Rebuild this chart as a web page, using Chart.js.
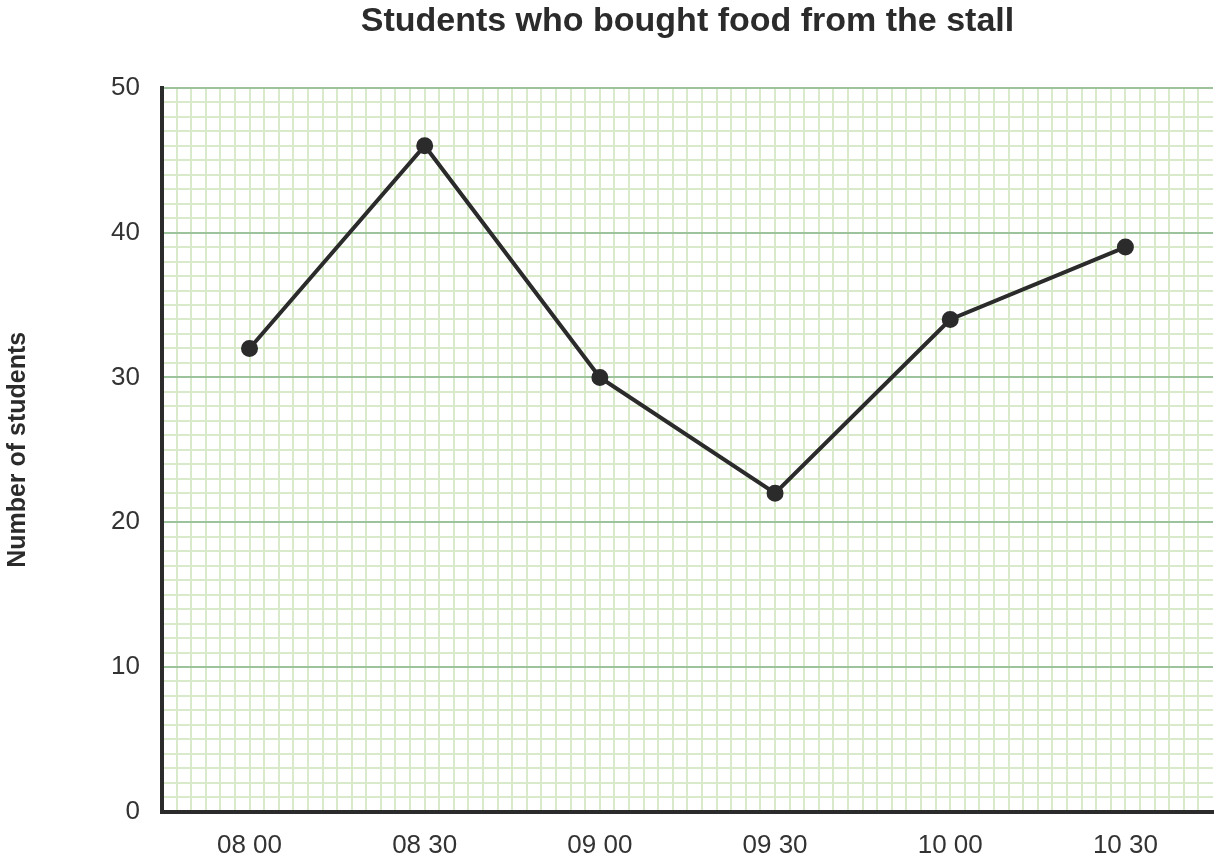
<!DOCTYPE html>
<html>
<head>
<meta charset="utf-8">
<script src="https://cdn.jsdelivr.net/npm/chart.js@4.4.0/dist/chart.umd.min.js"></script>
<style>
    html, body { margin: 0; padding: 0; background: #fff; }
    #wrap { width: 1220px; height: 857px; }
</style>
</head>
<body>
<div id="wrap"><canvas id="myChart-Stall" width="1220" height="857"></canvas></div>
<script>
const timeLabels = ['08 00', '08 30', '09 00', '09 30', '10 00', '10 30'];
const studentCounts = [32, 46, 30, 22, 34, 39];
const yTickLabels = [0, 10, 20, 30, 40, 50];

document.addEventListener('DOMContentLoaded', () => {
    const ctx = document.getElementById('myChart-Stall').getContext('2d');
    const minorColor = '#d9eacb';
    const majorColor = '#9dc39d';
    const inkColor = '#2b2b2b';
    const fontFamily = 'Liberation Sans, Arial, sans-serif';

    window.myChartInstance = new Chart(ctx, {
        type: 'line',
        data: {
            labels: timeLabels,
            datasets: [{
                label: 'Number of students',
                data: studentCounts,
                borderColor: inkColor,
                backgroundColor: inkColor,
                borderWidth: 4,
                pointRadius: 6.5,
                pointHoverRadius: 6.5,
                tension: 0,
                xAxisID: 'x',
                yAxisID: 'y'
            }]
        },
        options: {
            responsive: false,
            animation: false,
            layout: { autoPadding: false, padding: { left: 3, right: 7, top: 1, bottom: -22 } },
            plugins: {
                legend: { display: false },
                tooltip: { enabled: false },
                title: {
                    display: true,
                    fullSize: false,
                    text: 'Students who bought food from the stall',
                    color: inkColor,
                    font: { family: fontFamily, size: 34, weight: 'bold' },
                    padding: { top: 0, bottom: 46 }
                }
            },
            scales: {
                x: {
                    type: 'category',
                    offset: true,
                    grid: { display: false, drawTicks: false },
                    border: { display: true, color: inkColor, width: 4 },
                    ticks: {
                        color: '#333',
                        padding: 18,
                        font: { family: fontFamily, size: 26 }
                    }
                },
                xg: {
                    type: 'linear',
                    position: 'top',
                    min: 0,
                    max: 72,
                    grid: {
                        color: (c) => (c.tick && c.tick.value > 0 && c.tick.value < 72) ? minorColor : 'rgba(0,0,0,0)',
                        lineWidth: 2,
                        drawTicks: false
                    },
                    border: { display: false },
                    ticks: { display: false, stepSize: 1, maxTicksLimit: 100, autoSkip: false }
                },
                y: {
                    type: 'linear',
                    min: 0,
                    max: 50,
                    grid: {
                        color: (c) => {
                            if (!c.tick) return minorColor;
                            if (c.tick.value === 0) return 'rgba(0,0,0,0)';
                            return c.tick.value % 10 === 0 ? majorColor : minorColor;
                        },
                        lineWidth: 2,
                        drawTicks: false
                    },
                    border: { display: true, color: inkColor, width: 4 },
                    ticks: {
                        stepSize: 1,
                        maxTicksLimit: 100,
                        autoSkip: false,
                        color: '#333',
                        padding: 22,
                        font: { family: fontFamily, size: 26 },
                        callback: function (value) {
                            return yTickLabels.includes(value) ? value : '';
                        }
                    },
                    title: {
                        display: true,
                        text: 'Number of students',
                        color: inkColor,
                        font: { family: fontFamily, size: 25, weight: 'bold' },
                        padding: { top: 0, bottom: 56 }
                    }
                }
            }
        }
    });
});
</script>
</body>
</html>
